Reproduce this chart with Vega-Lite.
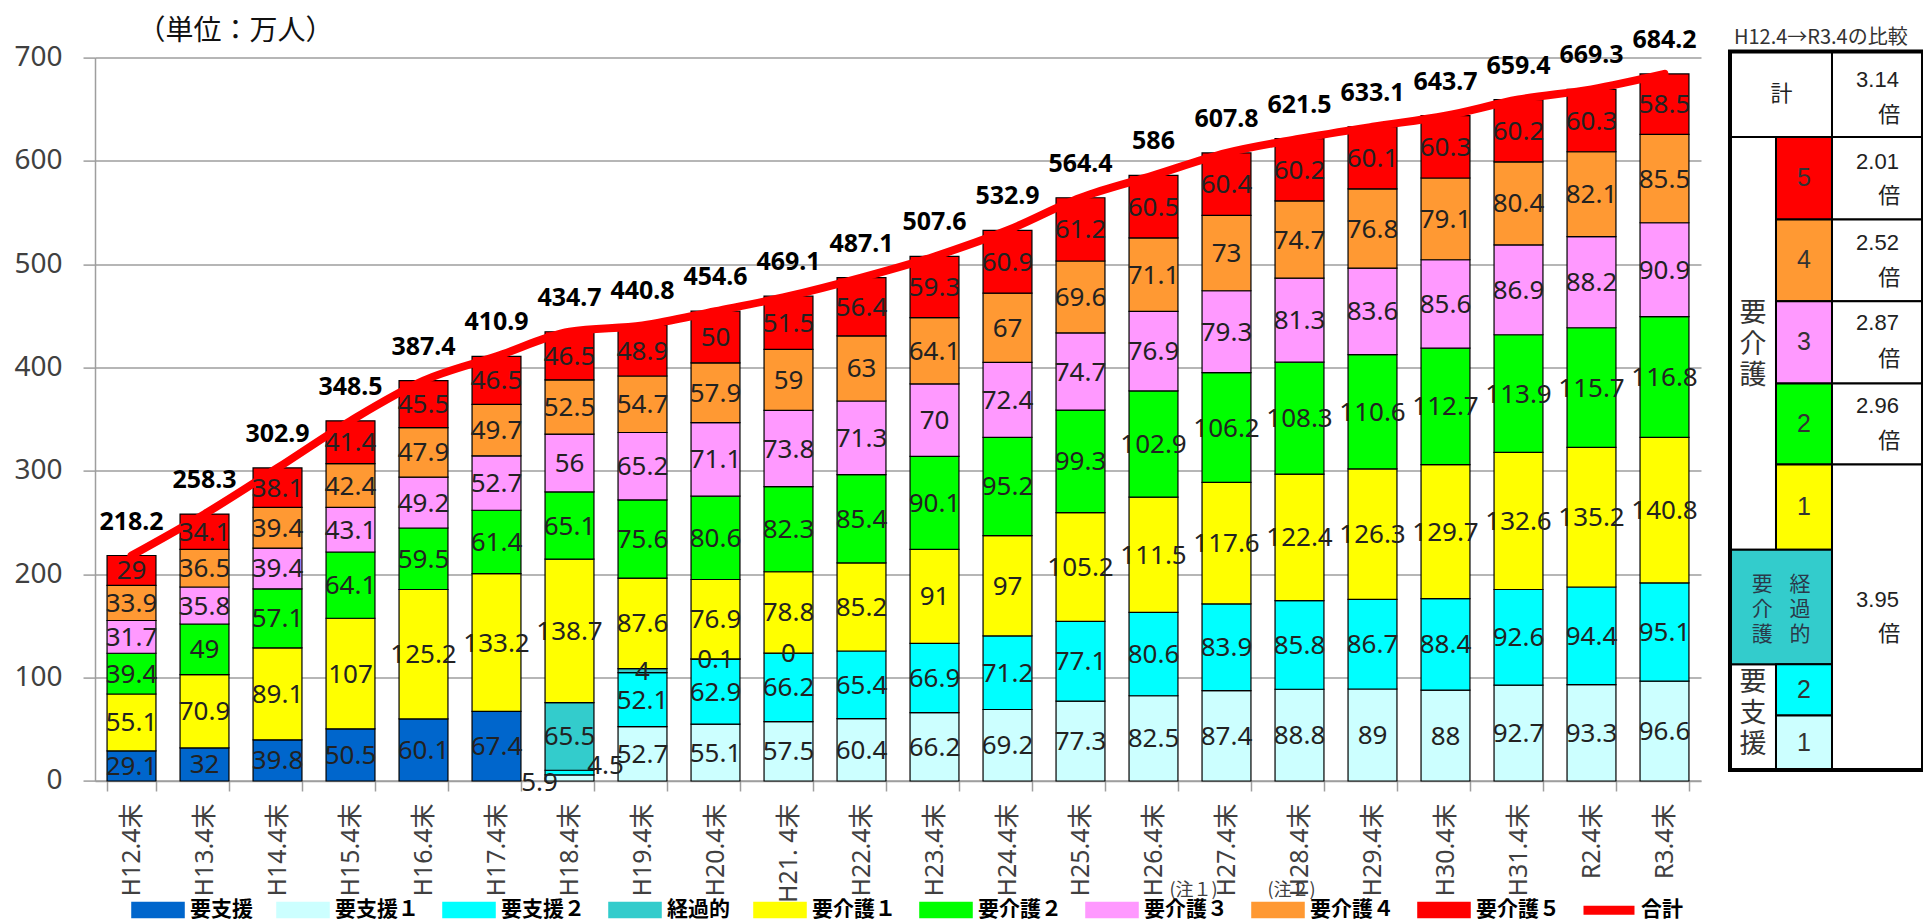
{
 "$schema": "https://vega.github.io/schema/vega-lite/v6.json",
 "autosize": {"type": "none"},
 "padding": {"left": 95, "top": 57.6, "right": 1828, "bottom": 864},
 "background": "white",
 "bounds": "flush",
 "spacing": 29,
 "resolve": {"scale": {"color": "shared"}, "legend": {"color": "shared"}},
 "config": {"view": {"stroke": null}, "font": "Noto Sans, Noto Sans CJK JP"},
 "datasets": {
  "cats": [
   {"cat": "要支援", "ord": 1}, {"cat": "要支援１", "ord": 2}, {"cat": "要支援２", "ord": 3}, {"cat": "経過的", "ord": 4},
   {"cat": "要介護１", "ord": 5}, {"cat": "要介護２", "ord": 6}, {"cat": "要介護３", "ord": 7}, {"cat": "要介護４", "ord": 8}, {"cat": "要介護５", "ord": 9}
  ],
  "segs": [
   {"year": "H12.4末", "cat": "要支援", "value": 29.1}, {"year": "H12.4末", "cat": "要介護１", "value": 55.1}, {"year": "H12.4末", "cat": "要介護２", "value": 39.4}, {"year": "H12.4末", "cat": "要介護３", "value": 31.7}, {"year": "H12.4末", "cat": "要介護４", "value": 33.9}, {"year": "H12.4末", "cat": "要介護５", "value": 29},
   {"year": "H13.4末", "cat": "要支援", "value": 32}, {"year": "H13.4末", "cat": "要介護１", "value": 70.9}, {"year": "H13.4末", "cat": "要介護２", "value": 49}, {"year": "H13.4末", "cat": "要介護３", "value": 35.8}, {"year": "H13.4末", "cat": "要介護４", "value": 36.5}, {"year": "H13.4末", "cat": "要介護５", "value": 34.1},
   {"year": "H14.4末", "cat": "要支援", "value": 39.8}, {"year": "H14.4末", "cat": "要介護１", "value": 89.1}, {"year": "H14.4末", "cat": "要介護２", "value": 57.1}, {"year": "H14.4末", "cat": "要介護３", "value": 39.4}, {"year": "H14.4末", "cat": "要介護４", "value": 39.4}, {"year": "H14.4末", "cat": "要介護５", "value": 38.1},
   {"year": "H15.4末", "cat": "要支援", "value": 50.5}, {"year": "H15.4末", "cat": "要介護１", "value": 107}, {"year": "H15.4末", "cat": "要介護２", "value": 64.1}, {"year": "H15.4末", "cat": "要介護３", "value": 43.1}, {"year": "H15.4末", "cat": "要介護４", "value": 42.4}, {"year": "H15.4末", "cat": "要介護５", "value": 41.4},
   {"year": "H16.4末", "cat": "要支援", "value": 60.1}, {"year": "H16.4末", "cat": "要介護１", "value": 125.2}, {"year": "H16.4末", "cat": "要介護２", "value": 59.5}, {"year": "H16.4末", "cat": "要介護３", "value": 49.2}, {"year": "H16.4末", "cat": "要介護４", "value": 47.9}, {"year": "H16.4末", "cat": "要介護５", "value": 45.5},
   {"year": "H17.4末", "cat": "要支援", "value": 67.4}, {"year": "H17.4末", "cat": "要介護１", "value": 133.2}, {"year": "H17.4末", "cat": "要介護２", "value": 61.4}, {"year": "H17.4末", "cat": "要介護３", "value": 52.7}, {"year": "H17.4末", "cat": "要介護４", "value": 49.7}, {"year": "H17.4末", "cat": "要介護５", "value": 46.5},
   {"year": "H18.4末", "cat": "要支援１", "value": 5.9}, {"year": "H18.4末", "cat": "要支援２", "value": 4.5}, {"year": "H18.4末", "cat": "経過的", "value": 65.5}, {"year": "H18.4末", "cat": "要介護１", "value": 138.7}, {"year": "H18.4末", "cat": "要介護２", "value": 65.1}, {"year": "H18.4末", "cat": "要介護３", "value": 56}, {"year": "H18.4末", "cat": "要介護４", "value": 52.5}, {"year": "H18.4末", "cat": "要介護５", "value": 46.5},
   {"year": "H19.4末", "cat": "要支援１", "value": 52.7}, {"year": "H19.4末", "cat": "要支援２", "value": 52.1}, {"year": "H19.4末", "cat": "経過的", "value": 4}, {"year": "H19.4末", "cat": "要介護１", "value": 87.6}, {"year": "H19.4末", "cat": "要介護２", "value": 75.6}, {"year": "H19.4末", "cat": "要介護３", "value": 65.2}, {"year": "H19.4末", "cat": "要介護４", "value": 54.7}, {"year": "H19.4末", "cat": "要介護５", "value": 48.9},
   {"year": "H20.4末", "cat": "要支援１", "value": 55.1}, {"year": "H20.4末", "cat": "要支援２", "value": 62.9}, {"year": "H20.4末", "cat": "経過的", "value": 0.1}, {"year": "H20.4末", "cat": "要介護１", "value": 76.9}, {"year": "H20.4末", "cat": "要介護２", "value": 80.6}, {"year": "H20.4末", "cat": "要介護３", "value": 71.1}, {"year": "H20.4末", "cat": "要介護４", "value": 57.9}, {"year": "H20.4末", "cat": "要介護５", "value": 50},
   {"year": "H21. 4末", "cat": "要支援１", "value": 57.5}, {"year": "H21. 4末", "cat": "要支援２", "value": 66.2}, {"year": "H21. 4末", "cat": "経過的", "value": 0}, {"year": "H21. 4末", "cat": "要介護１", "value": 78.8}, {"year": "H21. 4末", "cat": "要介護２", "value": 82.3}, {"year": "H21. 4末", "cat": "要介護３", "value": 73.8}, {"year": "H21. 4末", "cat": "要介護４", "value": 59}, {"year": "H21. 4末", "cat": "要介護５", "value": 51.5},
   {"year": "H22.4末", "cat": "要支援１", "value": 60.4}, {"year": "H22.4末", "cat": "要支援２", "value": 65.4}, {"year": "H22.4末", "cat": "要介護１", "value": 85.2}, {"year": "H22.4末", "cat": "要介護２", "value": 85.4}, {"year": "H22.4末", "cat": "要介護３", "value": 71.3}, {"year": "H22.4末", "cat": "要介護４", "value": 63}, {"year": "H22.4末", "cat": "要介護５", "value": 56.4},
   {"year": "H23.4末", "cat": "要支援１", "value": 66.2}, {"year": "H23.4末", "cat": "要支援２", "value": 66.9}, {"year": "H23.4末", "cat": "要介護１", "value": 91}, {"year": "H23.4末", "cat": "要介護２", "value": 90.1}, {"year": "H23.4末", "cat": "要介護３", "value": 70}, {"year": "H23.4末", "cat": "要介護４", "value": 64.1}, {"year": "H23.4末", "cat": "要介護５", "value": 59.3},
   {"year": "H24.4末", "cat": "要支援１", "value": 69.2}, {"year": "H24.4末", "cat": "要支援２", "value": 71.2}, {"year": "H24.4末", "cat": "要介護１", "value": 97}, {"year": "H24.4末", "cat": "要介護２", "value": 95.2}, {"year": "H24.4末", "cat": "要介護３", "value": 72.4}, {"year": "H24.4末", "cat": "要介護４", "value": 67}, {"year": "H24.4末", "cat": "要介護５", "value": 60.9},
   {"year": "H25.4末", "cat": "要支援１", "value": 77.3}, {"year": "H25.4末", "cat": "要支援２", "value": 77.1}, {"year": "H25.4末", "cat": "要介護１", "value": 105.2}, {"year": "H25.4末", "cat": "要介護２", "value": 99.3}, {"year": "H25.4末", "cat": "要介護３", "value": 74.7}, {"year": "H25.4末", "cat": "要介護４", "value": 69.6}, {"year": "H25.4末", "cat": "要介護５", "value": 61.2},
   {"year": "H26.4末", "cat": "要支援１", "value": 82.5}, {"year": "H26.4末", "cat": "要支援２", "value": 80.6}, {"year": "H26.4末", "cat": "要介護１", "value": 111.5}, {"year": "H26.4末", "cat": "要介護２", "value": 102.9}, {"year": "H26.4末", "cat": "要介護３", "value": 76.9}, {"year": "H26.4末", "cat": "要介護４", "value": 71.1}, {"year": "H26.4末", "cat": "要介護５", "value": 60.5},
   {"year": "H27.4末", "cat": "要支援１", "value": 87.4}, {"year": "H27.4末", "cat": "要支援２", "value": 83.9}, {"year": "H27.4末", "cat": "要介護１", "value": 117.6}, {"year": "H27.4末", "cat": "要介護２", "value": 106.2}, {"year": "H27.4末", "cat": "要介護３", "value": 79.3}, {"year": "H27.4末", "cat": "要介護４", "value": 73}, {"year": "H27.4末", "cat": "要介護５", "value": 60.4},
   {"year": "H28.4末", "cat": "要支援１", "value": 88.8}, {"year": "H28.4末", "cat": "要支援２", "value": 85.8}, {"year": "H28.4末", "cat": "要介護１", "value": 122.4}, {"year": "H28.4末", "cat": "要介護２", "value": 108.3}, {"year": "H28.4末", "cat": "要介護３", "value": 81.3}, {"year": "H28.4末", "cat": "要介護４", "value": 74.7}, {"year": "H28.4末", "cat": "要介護５", "value": 60.2},
   {"year": "H29.4末", "cat": "要支援１", "value": 89}, {"year": "H29.4末", "cat": "要支援２", "value": 86.7}, {"year": "H29.4末", "cat": "要介護１", "value": 126.3}, {"year": "H29.4末", "cat": "要介護２", "value": 110.6}, {"year": "H29.4末", "cat": "要介護３", "value": 83.6}, {"year": "H29.4末", "cat": "要介護４", "value": 76.8}, {"year": "H29.4末", "cat": "要介護５", "value": 60.1},
   {"year": "H30.4末", "cat": "要支援１", "value": 88}, {"year": "H30.4末", "cat": "要支援２", "value": 88.4}, {"year": "H30.4末", "cat": "要介護１", "value": 129.7}, {"year": "H30.4末", "cat": "要介護２", "value": 112.7}, {"year": "H30.4末", "cat": "要介護３", "value": 85.6}, {"year": "H30.4末", "cat": "要介護４", "value": 79.1}, {"year": "H30.4末", "cat": "要介護５", "value": 60.3},
   {"year": "H31.4末", "cat": "要支援１", "value": 92.7}, {"year": "H31.4末", "cat": "要支援２", "value": 92.6}, {"year": "H31.4末", "cat": "要介護１", "value": 132.6}, {"year": "H31.4末", "cat": "要介護２", "value": 113.9}, {"year": "H31.4末", "cat": "要介護３", "value": 86.9}, {"year": "H31.4末", "cat": "要介護４", "value": 80.4}, {"year": "H31.4末", "cat": "要介護５", "value": 60.2},
   {"year": "R2.4末", "cat": "要支援１", "value": 93.3}, {"year": "R2.4末", "cat": "要支援２", "value": 94.4}, {"year": "R2.4末", "cat": "要介護１", "value": 135.2}, {"year": "R2.4末", "cat": "要介護２", "value": 115.7}, {"year": "R2.4末", "cat": "要介護３", "value": 88.2}, {"year": "R2.4末", "cat": "要介護４", "value": 82.1}, {"year": "R2.4末", "cat": "要介護５", "value": 60.3},
   {"year": "R3.4末", "cat": "要支援１", "value": 96.6}, {"year": "R3.4末", "cat": "要支援２", "value": 95.1}, {"year": "R3.4末", "cat": "要介護１", "value": 140.8}, {"year": "R3.4末", "cat": "要介護２", "value": 116.8}, {"year": "R3.4末", "cat": "要介護３", "value": 90.9}, {"year": "R3.4末", "cat": "要介護４", "value": 85.5}, {"year": "R3.4末", "cat": "要介護５", "value": 58.5}
  ],
  "totals": [
   {"year": "H12.4末", "total": 218.2}, {"year": "H13.4末", "total": 258.3}, {"year": "H14.4末", "total": 302.9}, {"year": "H15.4末", "total": 348.5},
   {"year": "H16.4末", "total": 387.4}, {"year": "H17.4末", "total": 410.9}, {"year": "H18.4末", "total": 434.7}, {"year": "H19.4末", "total": 440.8},
   {"year": "H20.4末", "total": 454.6}, {"year": "H21. 4末", "total": 469.1}, {"year": "H22.4末", "total": 487.1}, {"year": "H23.4末", "total": 507.6},
   {"year": "H24.4末", "total": 532.9}, {"year": "H25.4末", "total": 564.4}, {"year": "H26.4末", "total": 586}, {"year": "H27.4末", "total": 607.8},
   {"year": "H28.4末", "total": 621.5}, {"year": "H29.4末", "total": 633.1}, {"year": "H30.4末", "total": 643.7}, {"year": "H31.4末", "total": 659.4},
   {"year": "R2.4末", "total": 669.3}, {"year": "R3.4末", "total": 684.2}
  ],
  "tcells": [
   {"c0": 0, "c1": 2, "r0": 0, "r1": 1, "cat": null},
   {"c0": 0, "c1": 1, "r0": 1, "r1": 6, "cat": null},
   {"c0": 0, "c1": 1, "r0": 7, "r1": 9, "cat": null},
   {"c0": 2, "c1": 3, "r0": 0, "r1": 1, "cat": null},
   {"c0": 2, "c1": 3, "r0": 1, "r1": 2, "cat": null},
   {"c0": 2, "c1": 3, "r0": 2, "r1": 3, "cat": null},
   {"c0": 2, "c1": 3, "r0": 3, "r1": 4, "cat": null},
   {"c0": 2, "c1": 3, "r0": 4, "r1": 5, "cat": null},
   {"c0": 2, "c1": 3, "r0": 5, "r1": 9, "cat": null},
   {"c0": 1, "c1": 2, "r0": 1, "r1": 2, "cat": "要介護５"},
   {"c0": 1, "c1": 2, "r0": 2, "r1": 3, "cat": "要介護４"},
   {"c0": 1, "c1": 2, "r0": 3, "r1": 4, "cat": "要介護３"},
   {"c0": 1, "c1": 2, "r0": 4, "r1": 5, "cat": "要介護２"},
   {"c0": 1, "c1": 2, "r0": 5, "r1": 6, "cat": "要介護１"},
   {"c0": 0, "c1": 2, "r0": 6, "r1": 7, "cat": "経過的"},
   {"c0": 1, "c1": 2, "r0": 7, "r1": 8, "cat": "要支援２"},
   {"c0": 1, "c1": 2, "r0": 8, "r1": 9, "cat": "要支援１"}
  ],
  "ttext": [
   {"t": "計", "c": 1.1, "r": 0.5, "g": "num"},
   {"t": "3.14", "c": 2.5, "r": 0.33, "g": "num"}, {"t": "倍", "c": 2.63, "r": 0.74, "g": "num"},
   {"t": "2.01", "c": 2.5, "r": 1.3, "g": "num"}, {"t": "倍", "c": 2.63, "r": 1.72, "g": "num"},
   {"t": "2.52", "c": 2.5, "r": 2.29, "g": "num"}, {"t": "倍", "c": 2.63, "r": 2.72, "g": "num"},
   {"t": "2.87", "c": 2.5, "r": 3.27, "g": "num"}, {"t": "倍", "c": 2.63, "r": 3.7, "g": "num"},
   {"t": "2.96", "c": 2.5, "r": 4.28, "g": "num"}, {"t": "倍", "c": 2.63, "r": 4.71, "g": "num"},
   {"t": "3.95", "c": 2.5, "r": 6.44, "g": "num"}, {"t": "倍", "c": 2.63, "r": 6.74, "g": "num"},
   {"t": "5", "c": 1.5, "r": 1.5, "g": "digit"}, {"t": "4", "c": 1.5, "r": 2.5, "g": "digit"}, {"t": "3", "c": 1.5, "r": 3.5, "g": "digit"},
   {"t": "2", "c": 1.5, "r": 4.5, "g": "digit"}, {"t": "1", "c": 1.5, "r": 5.5, "g": "digit"},
   {"t": "2", "c": 1.5, "r": 7.5, "g": "digit"}, {"t": "1", "c": 1.5, "r": 8.5, "g": "digit"},
   {"t": "要\n介\n護", "c": 0.5, "r": 3.53, "g": "big"}, {"t": "要\n支\n援", "c": 0.5, "r": 7.97, "g": "big"},
   {"t": "要\n介\n護", "c": 0.7, "r": 6.53, "g": "small"}, {"t": "経\n過\n的", "c": 1.43, "r": 6.53, "g": "small"},
   {"t": "H12.4→R3.4の比較", "c": 1.8, "r": -1, "g": "title"}
  ]
 },
 "hconcat": [
  {
   "width": 1606,
   "height": 723.4,
   "layer": [
    {
     "data": {"name": "segs"},
     "transform": [{"lookup": "cat", "from": {"data": {"name": "cats"}, "key": "cat", "fields": ["ord"]}}],
     "mark": {"type": "bar", "stroke": "#000000", "strokeWidth": 1.2},
     "encoding": {
      "x": {"field": "year", "type": "nominal",
       "scale": {"domain": ["H12.4末","H13.4末","H14.4末","H15.4末","H16.4末","H17.4末","H18.4末","H19.4末","H20.4末","H21. 4末","H22.4末","H23.4末","H24.4末","H25.4末","H26.4末","H27.4末","H28.4末","H29.4末","H30.4末","H31.4末","R2.4末","R3.4末"], "paddingInner": 0.33, "paddingOuter": 0.165},
       "axis": {"title": null, "labelAngle": -90, "labelFontSize": 25, "labelColor": "#404040", "labelFont": "Noto Sans, Noto Sans CJK JP", "labelPadding": 12, "tickBand": "extent", "tickSize": 10, "tickColor": "#9e9e9e", "tickWidth": 1.5, "domainColor": "#9e9e9e", "domainWidth": 1.5, "grid": false, "labelOverlap": false}},
      "y": {"field": "value", "type": "quantitative", "stack": "zero",
       "scale": {"domain": [0, 700], "nice": false},
       "axis": {"values": [0, 100, 200, 300, 400, 500, 600, 700], "grid": true, "gridColor": "#9e9e9e", "gridWidth": 1.5, "domainColor": "#9e9e9e", "domainWidth": 1.5, "tickColor": "#9e9e9e", "tickWidth": 1.5, "tickSize": 12, "labelFontSize": 28, "labelColor": "#404040", "labelPadding": 21, "labelFont": "Noto Sans",
        "title": "（単位：万人）", "titleAngle": 0, "titleX": 42, "titleY": -26, "titleAlign": "left", "titleBaseline": "middle", "titleFontSize": 28, "titleFontWeight": "normal", "titleColor": "#111111", "titleFont": "Noto Sans CJK JP"}},
      "color": {"field": "cat", "type": "nominal",
       "scale": {"domain": ["要支援","要支援１","要支援２","経過的","要介護１","要介護２","要介護３","要介護４","要介護５","合計"],
                 "range": ["#0066CC","#CCFFFF","#00FFFF","#33CCCC","#FFFF00","#00FF00","#FF99FF","#FF9933","#FF0000","#FF0000"]},
       "legend": {"title": null, "orient": "none", "legendX": 52.5, "legendY": 842, "direction": "horizontal", "columns": 10, "columnPadding": 20, "padding": 0,
        "symbolSize": 225, "symbolType": "M-3.47,-1H3.47V1H-3.47Z", "symbolStrokeColor": "#000000", "symbolStrokeWidth": 1.5, "symbolOpacity": 1,
        "labelFont": "Noto Sans CJK JP", "labelFontSize": 21, "labelFontWeight": "bold", "labelColor": "#000000", "labelOffset": 21.5, "labelLimit": 0,
        "encode": {"symbols": {"update": {
          "shape": {"signal": "datum.value === '合計' ? 'M-3.3,-0.5H3.3V0.5H-3.3Z' : 'M-3.47,-1H3.47V1H-3.47Z'"},
          "fill": {"signal": "scale('color', datum.value)"},
          "stroke": {"signal": "datum.value === '合計' ? '#FF0000' : '#000000'"},
          "strokeWidth": {"value": 1.5},
          "opacity": {"value": 1}}}}}},
      "order": {"field": "ord", "type": "quantitative"}
     }
    },
    {
     "data": {"name": "totals"},
     "mark": {"type": "line", "strokeWidth": 8, "interpolate": "monotone", "strokeCap": "round", "strokeJoin": "round"},
     "encoding": {
      "x": {"field": "year", "type": "nominal"},
      "y": {"field": "total", "type": "quantitative"},
      "color": {"datum": "合計"}
     }
    },
    {
     "data": {"name": "segs"},
     "transform": [{"lookup": "cat", "from": {"data": {"name": "cats"}, "key": "cat", "fields": ["ord"]}}],
     "mark": {"type": "text", "fontSize": 26, "font": "Noto Sans", "color": "#222222", "baseline": "middle", "dy": 1},
     "encoding": {
      "x": {"field": "year", "type": "nominal"},
      "y": {"field": "value", "type": "quantitative", "stack": "zero", "bandPosition": 0.5},
      "detail": {"field": "cat"},
      "order": {"field": "ord", "type": "quantitative"},
      "text": {"condition": {"test": "datum.year === 'H18.4末' && (datum.cat === '要支援１' || datum.cat === '要支援２')", "value": ""}, "field": "value", "type": "quantitative"}
     }
    },
    {
     "data": {"name": "segs"},
     "transform": [{"lookup": "cat", "from": {"data": {"name": "cats"}, "key": "cat", "fields": ["ord"]}}],
     "mark": {"type": "text", "fontSize": 26, "font": "Noto Sans", "color": "#222222", "baseline": "middle", "dx": -30, "dy": 5},
     "encoding": {
      "x": {"field": "year", "type": "nominal"},
      "y": {"field": "value", "type": "quantitative", "stack": "zero", "bandPosition": 0.5},
      "detail": {"field": "cat"},
      "order": {"field": "ord", "type": "quantitative"},
      "text": {"condition": {"test": "datum.year === 'H18.4末' && datum.cat === '要支援１'", "field": "value", "type": "quantitative"}, "value": ""}
     }
    },
    {
     "data": {"name": "segs"},
     "transform": [{"lookup": "cat", "from": {"data": {"name": "cats"}, "key": "cat", "fields": ["ord"]}}],
     "mark": {"type": "text", "fontSize": 26, "font": "Noto Sans", "color": "#222222", "baseline": "middle", "dx": 36, "dy": -7},
     "encoding": {
      "x": {"field": "year", "type": "nominal"},
      "y": {"field": "value", "type": "quantitative", "stack": "zero", "bandPosition": 0.5},
      "detail": {"field": "cat"},
      "order": {"field": "ord", "type": "quantitative"},
      "text": {"condition": {"test": "datum.year === 'H18.4末' && datum.cat === '要支援２'", "field": "value", "type": "quantitative"}, "value": ""}
     }
    },
    {
     "data": {"name": "totals"},
     "mark": {"type": "text", "fontSize": 25, "fontWeight": "bold", "font": "Noto Sans", "color": "#000000", "baseline": "middle", "dy": -34},
     "encoding": {
      "x": {"field": "year", "type": "nominal"},
      "y": {"field": "total", "type": "quantitative"},
      "text": {"field": "total", "type": "quantitative"}
     }
    },
    {
     "data": {"values": [{"note": "(注１)", "year": "H26.4末"}]},
     "mark": {"type": "text", "fontSize": 18, "font": "Noto Sans CJK JP", "color": "#404040", "baseline": "middle", "dx": 40},
     "encoding": {
      "x": {"field": "year", "type": "nominal"},
      "y": {"datum": -106.5},
      "text": {"field": "note"}
     }
    },
    {
     "data": {"values": [{"note": "(注２)", "year": "H28.4末"}]},
     "mark": {"type": "text", "fontSize": 18, "font": "Noto Sans CJK JP", "color": "#404040", "baseline": "middle", "dx": -8},
     "encoding": {
      "x": {"field": "year", "type": "nominal"},
      "y": {"datum": -106.5},
      "text": {"field": "note"}
     }
    }
   ]
  },
  {
   "width": 193,
   "height": 719,
   "layer": [
    {
     "data": {"name": "tcells"},
     "transform": [{"filter": "datum.cat == null"}],
     "mark": {"type": "rect", "fill": "#FFFFFF", "stroke": "#000000", "strokeWidth": 2},
     "encoding": {
      "x": {"field": "c0", "type": "quantitative", "scale": {"domain": [0, 1, 2, 3], "range": [0, 46, 102, 193], "nice": false, "zero": false}, "axis": null},
      "x2": {"field": "c1"},
      "y": {"field": "r0", "type": "quantitative", "scale": {"domain": [-1, 0, 1, 2, 3, 4, 5, 6, 7, 8, 9], "range": [-19.6, -6.1, 79.4, 161.9, 243.6, 325.8, 406.9, 492.1, 606.7, 657.8, 712.4], "nice": false, "zero": false}, "axis": null},
      "y2": {"field": "r1"}
     }
    },
    {
     "data": {"name": "tcells"},
     "transform": [{"filter": "datum.cat != null"}],
     "mark": {"type": "rect", "stroke": "#000000", "strokeWidth": 2, "opacity": 1},
     "encoding": {
      "x": {"field": "c0", "type": "quantitative", "axis": null},
      "x2": {"field": "c1"},
      "y": {"field": "r0", "type": "quantitative", "axis": null},
      "y2": {"field": "r1"},
      "color": {"field": "cat", "type": "nominal", "legend": null}
     }
    },
    {
     "data": {"values": [{"c0": 0, "c1": 3, "r0": 0, "r1": 9}]},
     "mark": {"type": "rect", "fill": null, "fillOpacity": 0, "stroke": "#000000", "strokeWidth": 4},
     "encoding": {
      "x": {"field": "c0", "type": "quantitative", "axis": null},
      "x2": {"field": "c1"},
      "y": {"field": "r0", "type": "quantitative", "axis": null},
      "y2": {"field": "r1"}
     }
    },
    {
     "data": {"name": "ttext"},
     "transform": [{"filter": "datum.g == 'num'"}],
     "mark": {"type": "text", "fontSize": 22, "font": "Liberation Sans, Noto Sans CJK JP", "color": "#222222", "baseline": "middle", "align": "center"},
     "encoding": {
      "x": {"field": "c", "type": "quantitative", "axis": null},
      "y": {"field": "r", "type": "quantitative", "axis": null},
      "text": {"field": "t"}
     }
    },
    {
     "data": {"name": "ttext"},
     "transform": [{"filter": "datum.g == 'digit'"}],
     "mark": {"type": "text", "fontSize": 25, "font": "Liberation Sans", "color": "#333333", "baseline": "middle", "align": "center"},
     "encoding": {
      "x": {"field": "c", "type": "quantitative", "axis": null},
      "y": {"field": "r", "type": "quantitative", "axis": null},
      "text": {"field": "t"}
     }
    },
    {
     "data": {"name": "ttext"},
     "transform": [{"filter": "datum.g == 'big'"}],
     "mark": {"type": "text", "fontSize": 27, "font": "Noto Sans CJK JP", "color": "#333333", "baseline": "middle", "align": "center", "lineBreak": "\n", "lineHeight": 31, "dy": -31},
     "encoding": {
      "x": {"field": "c", "type": "quantitative", "axis": null},
      "y": {"field": "r", "type": "quantitative", "axis": null},
      "text": {"field": "t"}
     }
    },
    {
     "data": {"name": "ttext"},
     "transform": [{"filter": "datum.g == 'small'"}],
     "mark": {"type": "text", "fontSize": 21, "font": "Noto Sans CJK JP", "color": "#2a3a4a", "baseline": "middle", "align": "center", "lineBreak": "\n", "lineHeight": 25, "dy": -25},
     "encoding": {
      "x": {"field": "c", "type": "quantitative", "axis": null},
      "y": {"field": "r", "type": "quantitative", "axis": null},
      "text": {"field": "t"}
     }
    },
    {
     "data": {"name": "ttext"},
     "transform": [{"filter": "datum.g == 'title'"}],
     "mark": {"type": "text", "fontSize": 20, "font": "Noto Sans CJK JP", "color": "#333333", "baseline": "middle", "align": "center"},
     "encoding": {
      "x": {"field": "c", "type": "quantitative", "axis": null},
      "y": {"field": "r", "type": "quantitative", "axis": null},
      "text": {"field": "t"}
     }
    }
   ]
  }
 ]
}
